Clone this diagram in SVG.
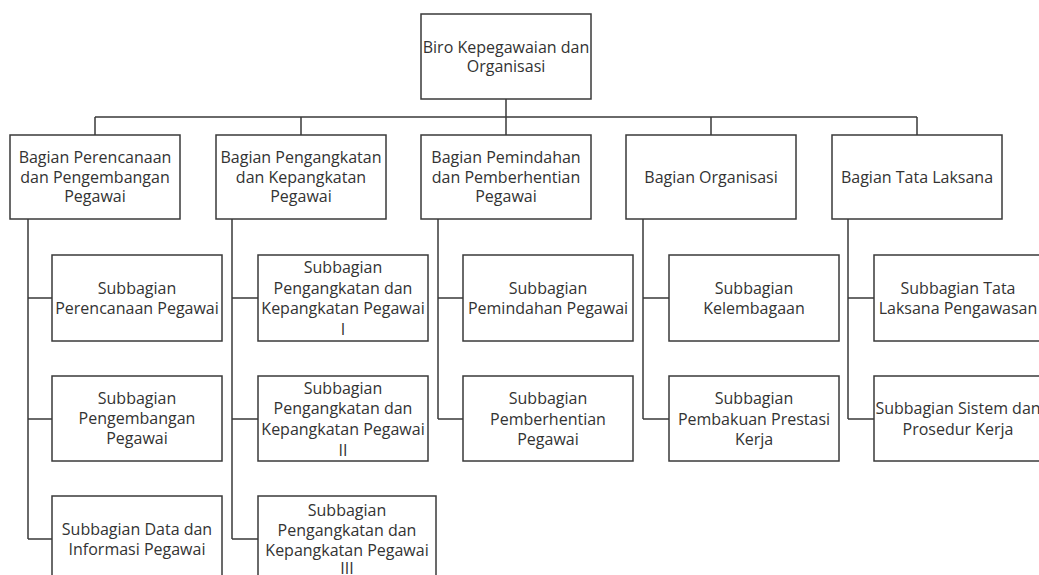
<svg xmlns="http://www.w3.org/2000/svg" width="1039" height="575" viewBox="0 0 1039 575">
<style>
.box{fill:#fff;stroke:#3a3a3a;stroke-width:1.5}
.t{font-family:"Open Sans","DejaVu Sans",sans-serif;font-size:16px;fill:#333;text-anchor:middle;dominant-baseline:central}
.c{stroke:#3a3a3a;stroke-width:1.5;fill:none}
</style>
<rect width="1039" height="575" fill="#fff"/>
<g id="connectors">
<path class="c" d="M506 99V135M95 117H917M95 117V135M301 117V135M711 117V135M917 117V135"/>
<path class="c" d="M28 219V539M28 298H52M28 419H52M28 539H52"/>
<path class="c" d="M232 219V539M232 298H258M232 419H258M232 539H258"/>
<path class="c" d="M438 219V419M438 298H463M438 419H463"/>
<path class="c" d="M643 219V419M643 298H669M643 419H669"/>
<path class="c" d="M848 219V419M848 298H874M848 419H874"/>
</g>
<g id="root"><rect class="box" x="421" y="14" width="170" height="85"/><text class="t" x="506" y="46.5">Biro Kepegawaian dan</text><text class="t" x="506" y="66">Organisasi</text></g>
<g id="b1"><rect class="box" x="10" y="135" width="170" height="84"/><text class="t" x="95" y="157">Bagian Perencanaan</text><text class="t" x="95" y="176.5">dan Pengembangan</text><text class="t" x="95" y="196">Pegawai</text></g>
<g id="b2"><rect class="box" x="216" y="135" width="170" height="84"/><text class="t" x="301" y="157">Bagian Pengangkatan</text><text class="t" x="301" y="176.5">dan Kepangkatan</text><text class="t" x="301" y="196">Pegawai</text></g>
<g id="b3"><rect class="box" x="421" y="135" width="170" height="84"/><text class="t" x="506" y="157">Bagian Pemindahan</text><text class="t" x="506" y="176.5">dan Pemberhentian</text><text class="t" x="506" y="196">Pegawai</text></g>
<g id="b4"><rect class="box" x="626" y="135" width="170" height="84"/><text class="t" x="711" y="176.5">Bagian Organisasi</text></g>
<g id="b5"><rect class="box" x="832" y="135" width="170" height="84"/><text class="t" x="917" y="176.5">Bagian Tata Laksana</text></g>
<g id="s11"><rect class="box" x="52" y="255" width="170" height="86"/><text class="t" x="137" y="288">Subbagian</text><text class="t" x="137" y="308">Perencanaan Pegawai</text></g>
<g id="s12"><rect class="box" x="52" y="376" width="170" height="85"/><text class="t" x="137" y="398">Subbagian</text><text class="t" x="137" y="418">Pengembangan</text><text class="t" x="137" y="438">Pegawai</text></g>
<g id="s13"><rect class="box" x="52" y="496" width="170" height="86"/><text class="t" x="137" y="528.5">Subbagian Data dan</text><text class="t" x="137" y="548.5">Informasi Pegawai</text></g>
<g id="s21"><rect class="box" x="258" y="255" width="170" height="86"/><text class="t" x="343" y="267">Subbagian</text><text class="t" x="343" y="287.5">Pengangkatan dan</text><text class="t" x="343" y="308">Kepangkatan Pegawai</text><text class="t" x="343" y="329">I</text></g>
<g id="s22"><rect class="box" x="258" y="376" width="170" height="85"/><text class="t" x="343" y="388">Subbagian</text><text class="t" x="343" y="408">Pengangkatan dan</text><text class="t" x="343" y="429">Kepangkatan Pegawai</text><text class="t" x="343" y="450">II</text></g>
<g id="s23"><rect class="box" x="258" y="496" width="178" height="86"/><text class="t" x="347" y="510">Subbagian</text><text class="t" x="347" y="530">Pengangkatan dan</text><text class="t" x="347" y="550">Kepangkatan Pegawai</text><text class="t" x="347" y="568">III</text></g>
<g id="s31"><rect class="box" x="463" y="255" width="170" height="86"/><text class="t" x="548" y="287.5">Subbagian</text><text class="t" x="548" y="308">Pemindahan Pegawai</text></g>
<g id="s32"><rect class="box" x="463" y="376" width="170" height="85"/><text class="t" x="548" y="398">Subbagian</text><text class="t" x="548" y="418.5">Pemberhentian</text><text class="t" x="548" y="439">Pegawai</text></g>
<g id="s41"><rect class="box" x="669" y="255" width="170" height="86"/><text class="t" x="754" y="287.5">Subbagian</text><text class="t" x="754" y="308">Kelembagaan</text></g>
<g id="s42"><rect class="box" x="669" y="376" width="170" height="85"/><text class="t" x="754" y="398">Subbagian</text><text class="t" x="754" y="418.5">Pembakuan Prestasi</text><text class="t" x="754" y="439">Kerja</text></g>
<g id="s51"><rect class="box" x="874" y="255" width="170" height="86"/><text class="t" x="958" y="287.5">Subbagian Tata</text><text class="t" x="958" y="308">Laksana Pengawasan</text></g>
<g id="s52"><rect class="box" x="874" y="376" width="170" height="85"/><text class="t" x="958" y="408">Subbagian Sistem dan</text><text class="t" x="958" y="428.5">Prosedur Kerja</text></g>
</svg>
